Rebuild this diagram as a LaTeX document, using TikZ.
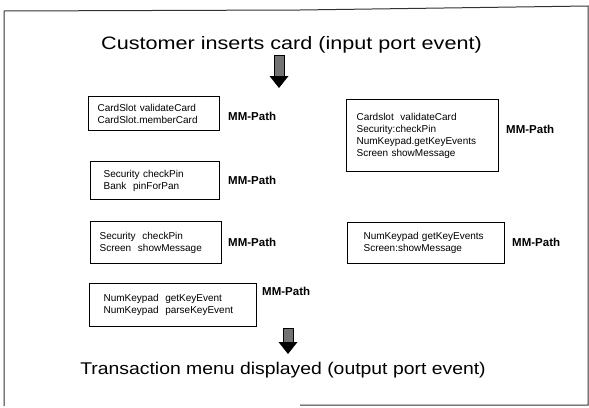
\documentclass[tikz,border=0pt]{standalone}
\usepackage{fontspec}
\setmainfont{Liberation Sans}
\begin{document}
\begin{tikzpicture}[x=1pt,y=-1pt,
  boxnode/.style={draw=black, line width=1.2pt, anchor=north west, align=left,
    font=\fontsize{10}{12}\selectfont, inner ysep=0pt},
  mmlabel/.style={anchor=west, inner sep=0pt, font=\bfseries\fontsize{11.5}{13}\selectfont},
  frameline/.style={draw=black!80, line width=1pt},
  arrowshaft/.style={fill=black!55, draw=black, line width=0.6pt},
  arrowhead/.style={fill=black}
]
\useasboundingbox (0,0) rectangle (589,407);
% frame
\draw[frameline] (4,406) -- (4,11) -- (300,10) -- (588,6) -- (588,405) -- (300,405);
% title texts
\node[inner sep=0pt, font=\fontsize{18}{20}\selectfont] (title) at (291.5,45) {\scalebox{1.2}[1]{Customer inserts card (input port event)}};
\node[inner sep=0pt, font=\fontsize{17}{19}\selectfont] (out) at (283,370) {\scalebox{1.14}[1]{Transaction menu displayed (output port event)}};
% big arrows
\fill[arrowshaft] (274,55) rectangle (284,77);
\fill[arrowhead] (269.5,76) -- (288.5,76) -- (279,88) -- cycle;
\fill[arrowshaft] (283,328) rectangle (293,343);
\fill[arrowhead] (278.5,342) -- (297.5,342) -- (288,354) -- cycle;
% left boxes
\node[boxnode, minimum height=34pt, inner xsep=9pt, text width=113pt] (b1) at (88,96) {CardSlot validateCard\\CardSlot.memberCard};
\node[mmlabel] (m1) at (228,116) {MM-Path};
\node[boxnode, minimum height=38pt, inner xsep=13pt, text width=103pt] (b2) at (90,161) {Security checkPin\\Bank\ \ pinForPan};
\node[mmlabel] (m2) at (228,180) {MM-Path};
\node[boxnode, minimum height=42pt, inner xsep=9pt, text width=113pt] (b3) at (90,221) {Security\ \ checkPin\\Screen\ \ showMessage};
\node[mmlabel] (m3) at (228,242) {MM-Path};
\node[boxnode, minimum height=43pt, inner xsep=14pt, text width=139pt] (b4) at (89,283) {NumKeypad\ \ getKeyEvent\\NumKeypad\ \ parseKeyEvent};
\node[mmlabel] (m4) at (262,291) {MM-Path};
% right boxes
\node[boxnode, minimum height=72pt, inner xsep=10pt, text width=132pt] (b5) at (346,99) {Cardslot\ \ validateCard\\Security:checkPin\\NumKeypad.getKeyEvents\\Screen showMessage};
\node[mmlabel] (m5) at (506,129) {MM-Path};
\node[boxnode, minimum height=41pt, inner xsep=16pt, text width=125pt] (b6) at (347,222) {NumKeypad getKeyEvents\\Screen:showMessage};
\node[mmlabel] (m6) at (512,242) {MM-Path};
\end{tikzpicture}
\end{document}
